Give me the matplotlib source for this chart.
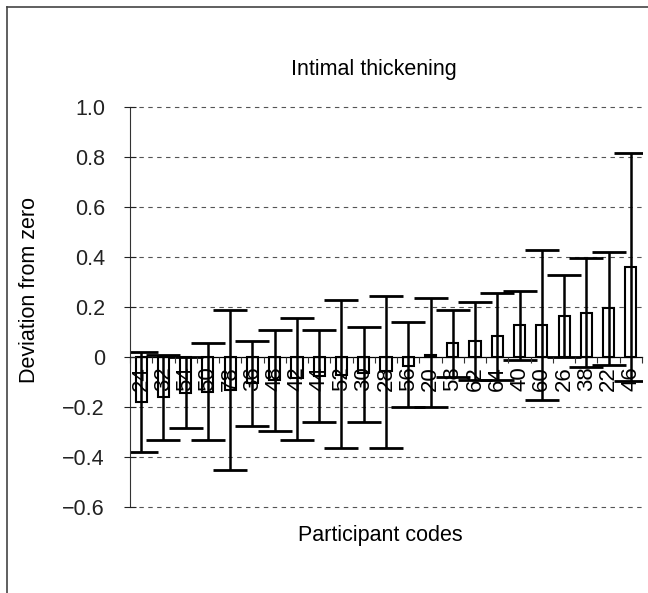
import matplotlib.pyplot as plt
import numpy as np
from matplotlib.lines import Line2D

plt.rcParams['font.family'] = ['Liberation Sans', 'DejaVu Sans']

# Data
codes = ["24", "32", "54", "50", "78", "36", "48", "42", "44", "52", "30", "28",
         "56", "20", "58", "62", "64", "40", "60", "26", "38", "22", "46"]
deviation = [-0.18, -0.16, -0.145, -0.14, -0.13, -0.105, -0.09, -0.085, -0.075, -0.07,
             -0.065, -0.055, -0.035, 0.01, 0.055, 0.065, 0.085, 0.13, 0.13, 0.165,
             0.175, 0.195, 0.36]
upper = [0.02, 0.01, 0.0, 0.055, 0.19, 0.063, 0.11, 0.155, 0.11, 0.23,
         0.12, 0.245, 0.14, 0.235, 0.19, 0.22, 0.257, 0.265, 0.43, 0.33,
         0.395, 0.42, 0.815]
lower = [-0.38, -0.33, -0.285, -0.33, -0.45, -0.275, -0.295, -0.33, -0.26, -0.365,
         -0.26, -0.365, -0.2, -0.2, -0.08, -0.09, -0.09, -0.013, -0.17, 0.0,
         -0.04, -0.03, -0.095]
ytick_vals = [-0.6, -0.4, -0.2, 0.0, 0.2, 0.4, 0.6, 0.8, 1.0]
ytick_labels = ["\u22120.6", "\u22120.4", "\u22120.2", "0", "0.2", "0.4", "0.6", "0.8", "1.0"]

x = np.arange(len(codes))
dev = np.array(deviation)
err = np.vstack([dev - np.array(lower), np.array(upper) - dev])

fig = plt.figure(figsize=(6.48, 5.93), dpi=100)
ax = fig.add_axes([130 / 648, 86 / 593, 512 / 648, 400 / 593])

# spine position first: it resets the axis ticks
ax.spines["bottom"].set_position(("data", 0))
ax.spines["bottom"].set_linewidth(0.9)
ax.spines["left"].set_linewidth(0.8)
ax.spines["left"].set_color("#333333")
ax.spines["top"].set_visible(False)
ax.spines["right"].set_visible(False)
ax.set_axisbelow(False)

ax.bar(x, dev, width=0.5, color="white", edgecolor="black", linewidth=1.5, zorder=2)
ax.errorbar(x, dev, yerr=err, fmt="none", ecolor="black", elinewidth=1.8,
            capsize=12, capthick=2.0, zorder=2.2)

ax.set_xlim(-0.5, len(codes) - 0.5)
ax.set_ylim(-0.6, 1.0)
ax.set_yticks(ytick_vals)
ax.set_yticklabels(ytick_labels, fontsize=15.5)
ax.tick_params(axis="y", direction="inout", length=8, width=0.8, pad=14, colors="#222222")

ax.set_xticks(x)
ax.set_xticklabels(codes, rotation=90, fontsize=16, va="top", ha="center")
ax.tick_params(axis="x", which="major", length=0, pad=7)
ax.set_xticks(np.arange(len(codes) + 1) - 0.5, minor=True)
ax.tick_params(axis="x", which="minor", direction="out", length=4, width=0.8, color="#333333")

for v in ytick_vals:
    if v != 0:
        ax.axhline(v, color="#555555", linewidth=0.8, linestyle=(0, (4, 4)), zorder=1, clip_on=False)

fig.text(374 / 648, 1 - 70 / 593, "Intimal thickening", ha="center", va="center", fontsize=15.5)
fig.text(380 / 648, 1 - 535 / 593, "Participant codes", ha="center", va="center", fontsize=15.5)
fig.text(30 / 648, 1 - 290 / 593, "Deviation from zero", ha="center", va="center",
         rotation=90, fontsize=15.5)

# outer frame (top and left edges only)
fig.add_artist(Line2D([7 / 648, 1.0], [1 - 7 / 593, 1 - 7 / 593], color="#444444", linewidth=1.2))
fig.add_artist(Line2D([7 / 648, 7 / 648], [0, 1 - 7 / 593], color="#444444", linewidth=1.2))

fig.savefig("out.png", dpi=100)
